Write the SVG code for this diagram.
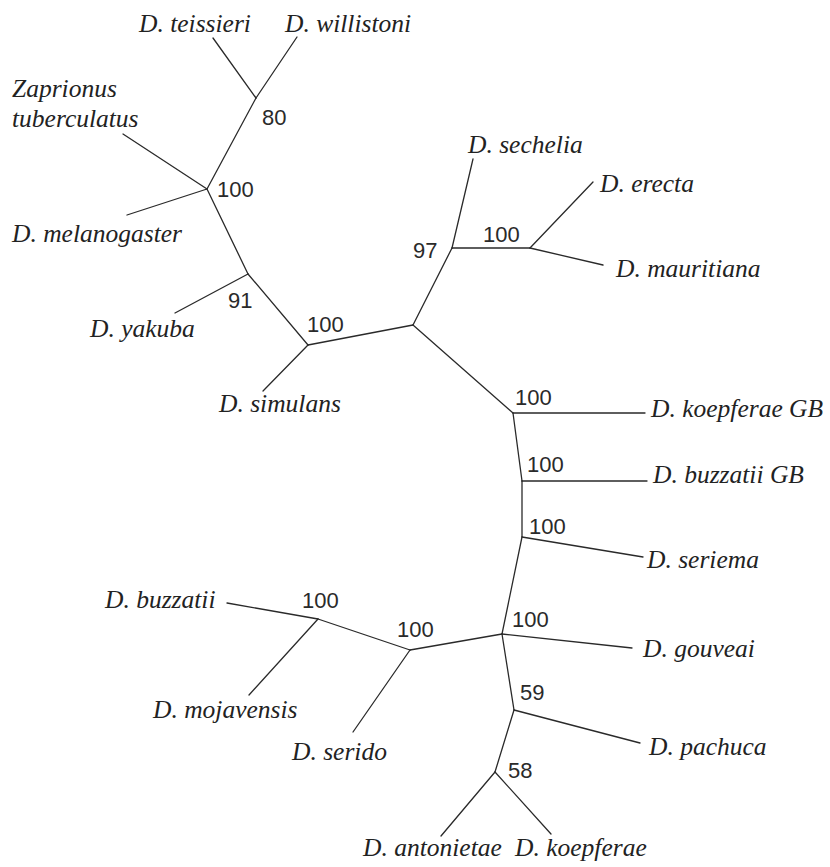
<svg xmlns="http://www.w3.org/2000/svg" width="830" height="867" viewBox="0 0 830 867">
<style>
.e{stroke:#2a2a2a;stroke-width:1.3;fill:none;stroke-linecap:round}
.t{font-family:"Liberation Serif","Times New Roman",serif;font-style:italic;font-size:25.5px;fill:#222}
.b{font-family:"Liberation Sans",Arial,sans-serif;font-size:22px;fill:#2a2a2a}
</style>
<rect width="830" height="867" fill="#fff"/>
<g id="connectors">
<line class="e" x1="213" y1="38" x2="256" y2="98"/>
<line class="e" x1="297" y1="37" x2="256" y2="98"/>
<line class="e" x1="256" y1="98" x2="207" y2="189"/>
<line class="e" x1="123" y1="134" x2="207" y2="189"/>
<line class="e" x1="127" y1="215" x2="207" y2="189"/>
<line class="e" x1="207" y1="189" x2="248" y2="274"/>
<line class="e" x1="175" y1="313" x2="248" y2="274"/>
<line class="e" x1="248" y1="274" x2="308" y2="345"/>
<line class="e" x1="263" y1="391" x2="308" y2="345"/>
<line class="e" x1="308" y1="345" x2="413" y2="325"/>
<line class="e" x1="413" y1="325" x2="452" y2="248"/>
<line class="e" x1="473" y1="159" x2="452" y2="248"/>
<line class="e" x1="452" y1="248" x2="530" y2="248"/>
<line class="e" x1="593" y1="182" x2="530" y2="248"/>
<line class="e" x1="530" y1="248" x2="603" y2="265"/>
<line class="e" x1="413" y1="325" x2="513" y2="413"/>
<line class="e" x1="513" y1="413" x2="645" y2="413"/>
<line class="e" x1="513" y1="413" x2="522" y2="481"/>
<line class="e" x1="522" y1="481" x2="647" y2="481"/>
<line class="e" x1="522" y1="481" x2="522" y2="537"/>
<line class="e" x1="522" y1="537" x2="643" y2="557"/>
<line class="e" x1="522" y1="537" x2="502" y2="634"/>
<line class="e" x1="502" y1="634" x2="632" y2="648"/>
<line class="e" x1="502" y1="634" x2="514" y2="710"/>
<line class="e" x1="514" y1="710" x2="640" y2="743"/>
<line class="e" x1="514" y1="710" x2="495" y2="772"/>
<line class="e" x1="495" y1="772" x2="441" y2="836"/>
<line class="e" x1="495" y1="772" x2="551" y2="834"/>
<line class="e" x1="502" y1="634" x2="410" y2="650"/>
<line class="e" x1="410" y1="650" x2="353" y2="732"/>
<line class="e" x1="410" y1="650" x2="318" y2="619"/>
<line class="e" x1="318" y1="619" x2="227" y2="603"/>
<line class="e" x1="318" y1="619" x2="249" y2="695"/>
</g>
<g id="teissieri"><text class="t" x="139" y="32">D. teissieri</text></g>
<g id="willistoni"><text class="t" x="285" y="32">D. willistoni</text></g>
<g id="zaprionus"><text class="t" x="12" y="97">Zaprionus</text><text class="t" x="12" y="127">tuberculatus</text></g>
<g id="melanogaster"><text class="t" x="12" y="242">D. melanogaster</text></g>
<g id="yakuba"><text class="t" x="90" y="337">D. yakuba</text></g>
<g id="simulans"><text class="t" x="219" y="412">D. simulans</text></g>
<g id="sechelia"><text class="t" x="468" y="153">D. sechelia</text></g>
<g id="erecta"><text class="t" x="600" y="192">D. erecta</text></g>
<g id="mauritiana"><text class="t" x="616" y="277">D. mauritiana</text></g>
<g id="koepferae-gb"><text class="t" x="651" y="417">D. koepferae GB</text></g>
<g id="buzzatii-gb"><text class="t" x="653" y="483">D. buzzatii GB</text></g>
<g id="seriema"><text class="t" x="647" y="568">D. seriema</text></g>
<g id="gouveai"><text class="t" x="643" y="657">D. gouveai</text></g>
<g id="pachuca"><text class="t" x="649" y="755">D. pachuca</text></g>
<g id="buzzatii"><text class="t" x="105" y="608">D. buzzatii</text></g>
<g id="mojavensis"><text class="t" x="153" y="718">D. mojavensis</text></g>
<g id="serido"><text class="t" x="292" y="760">D. serido</text></g>
<g id="antonietae"><text class="t" x="363" y="856">D. antonietae</text></g>
<g id="koepferae"><text class="t" x="515" y="856">D. koepferae</text></g>
<g id="n80"><text class="b" x="262" y="125">80</text></g>
<g id="n100a"><text class="b" x="217" y="197">100</text></g>
<g id="n91"><text class="b" x="228" y="308">91</text></g>
<g id="n100b"><text class="b" x="307" y="332">100</text></g>
<g id="n97"><text class="b" x="413" y="258">97</text></g>
<g id="n100c"><text class="b" x="483" y="242">100</text></g>
<g id="n100d"><text class="b" x="515" y="405">100</text></g>
<g id="n100e"><text class="b" x="527" y="472">100</text></g>
<g id="n100f"><text class="b" x="529" y="534">100</text></g>
<g id="n100g"><text class="b" x="512" y="627">100</text></g>
<g id="n59"><text class="b" x="520" y="700">59</text></g>
<g id="n58"><text class="b" x="508" y="778">58</text></g>
<g id="n100h"><text class="b" x="302" y="608">100</text></g>
<g id="n100i"><text class="b" x="397" y="637">100</text></g>
</svg>
